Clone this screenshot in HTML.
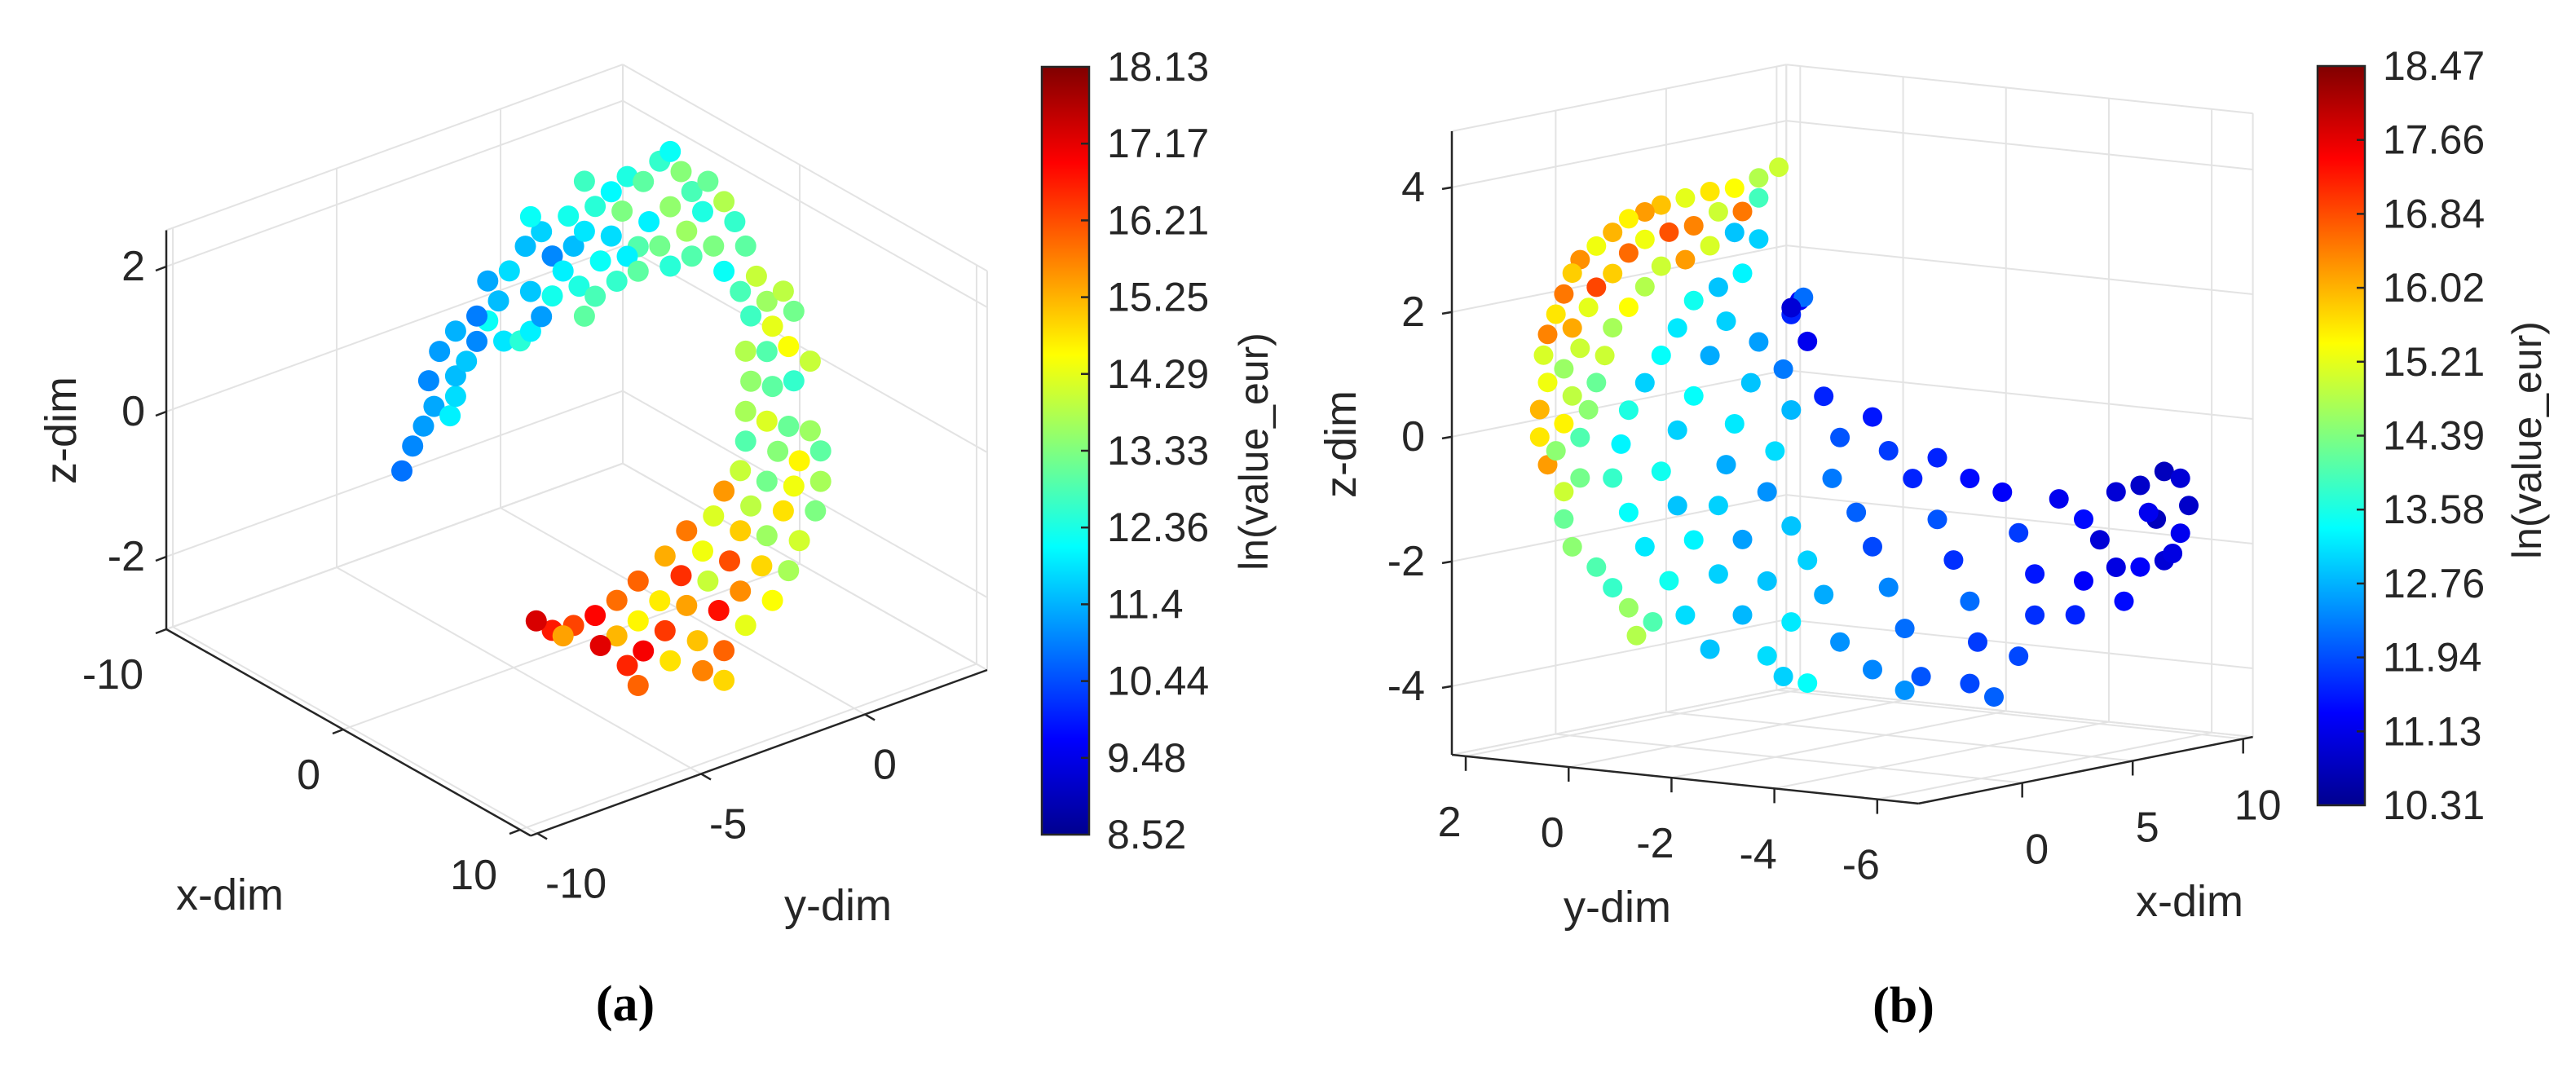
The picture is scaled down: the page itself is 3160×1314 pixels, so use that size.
<!DOCTYPE html>
<html><head><meta charset="utf-8"><style>
html,body{margin:0;padding:0;background:#fff;}
svg{display:block;font-family:"Liberation Sans",Arial,sans-serif;}
.grid{stroke:#e3e3e3;stroke-width:2;fill:none;}
.axis{stroke:#262626;stroke-width:2.5;fill:none;}
.tk{fill:#262626;font-size:52px;}
.cbl{fill:#262626;font-size:50px;}
.ttl{fill:#262626;font-size:54px;}
.cap{font-family:"Liberation Serif",serif;font-weight:bold;font-size:62px;fill:#000;}
</style></head><body>
<svg id="fig" width="3160" height="1314" viewBox="0 0 3160 1314">
<defs>
<linearGradient id="jet" x1="0" y1="1" x2="0" y2="0">
<stop offset="0" stop-color="#00008f"/><stop offset="0.125" stop-color="#0000ff"/>
<stop offset="0.375" stop-color="#00ffff"/><stop offset="0.625" stop-color="#ffff00"/>
<stop offset="0.875" stop-color="#ff0000"/><stop offset="1" stop-color="#800000"/>
</linearGradient>
</defs>
<g id="panelA"></g>
<g id="panelB"></g>
<text class="cap" x="767" y="1232" text-anchor="middle" dominant-baseline="central">(a)</text>
<text class="cap" x="2335" y="1234" text-anchor="middle" dominant-baseline="central">(b)</text>
</svg>
<script>
// ---------- Panel A data ----------
const aX = [0,0,0,0,0,0,0,0,0,0,0,0,0,0,0,0,0,0,0,0,0,0,0,0,0,0,0,0,0,0,0,0,0,0,0,0,0,0,0,0,0,0,0,0,0,0,0,0,0,0,0,0,0,0,0,0,0,0,0,0,0,0,0,0,0,0,0,0,0,0,0,0,0,0,0,0,0,0,0,0,0,0,0,0,0,0,0,0,0,0,0,0,0,0,0,0,0,0,0,0,0,0,0,0,0,0,0,0,0,0,0,0,0,0,0,0,0,0,0,0,0,0,0,0,0,0,0,0,0,0];
const aY = [-8.41,-8.08,-7.75,-7.43,-6.94,-6.77,-7.59,-6.77,-7.26,-6.44,-6.12,-6.77,-5.79,-5.30,-6.12,-4.80,-5.46,-4.48,-5.79,-5.13,-4.48,-4.15,-3.82,-4.64,-4.15,-4.48,-3.82,-3.49,-3.17,-3.33,-2.84,-3.00,-2.51,-2.84,-2.35,-2.02,-2.51,-2.84,-2.02,-1.53,-1.69,-1.85,-1.20,-0.87,-1.04,-0.54,-0.22,0.11,0.44,-0.22,-0.54,-1.53,-1.20,-0.22,0.28,0.77,0.93,1.42,1.75,0.44,1.10,1.42,2.08,2.41,1.92,2.73,3.23,2.24,2.90,3.55,2.08,2.73,3.39,4.05,2.24,2.90,3.55,2.08,2.73,3.39,4.05,2.08,3.06,3.72,4.37,1.92,2.73,3.55,4.37,1.42,2.24,3.23,4.21,1.10,1.92,2.73,3.72,0.28,0.77,1.59,2.57,3.39,-0.38,0.11,0.93,1.92,2.90,-1.20,-0.54,0.28,1.26,2.08,-1.85,-1.20,-0.38,0.61,1.42,-2.51,-1.85,-1.04,-0.22,0.77,-3.17,-2.35,-1.53,-1.20,-3.82,-4.31,-3.49,1.42];
const aZ = [0.27,0.56,0.78,1.00,0.79,1.03,1.38,1.31,1.73,1.46,1.68,1.93,1.91,1.55,2.03,1.47,2.13,1.55,2.46,2.49,2.10,1.70,1.93,2.75,2.87,3.13,2.48,2.22,2.51,2.95,2.66,1.93,1.71,1.49,2.17,2.46,2.95,3.35,3.07,3.20,2.75,1.81,2.18,2.47,3.05,3.25,3.33,3.00,2.67,2.57,2.08,2.10,1.84,1.75,2.15,2.34,2.73,2.37,2.04,1.78,1.81,1.41,1.65,1.18,1.05,0.78,0.84,0.66,0.41,0.51,0.20,0.09,0.05,-0.26,-0.24,-0.42,-0.45,-0.63,-0.87,-1.05,-1.22,-1.04,-1.34,-1.58,-1.55,-1.42,-1.70,-1.90,-1.97,-1.62,-1.96,-2.19,-2.35,-1.91,-2.25,-2.45,-2.68,-1.98,-2.34,-2.61,-2.84,-3.04,-2.22,-2.57,-2.78,-3.08,-3.37,-2.43,-2.81,-3.01,-3.24,-3.58,-2.59,-2.98,-3.25,-3.55,-3.82,-2.69,-3.08,-3.42,-3.69,-3.99,-2.72,-3.13,-3.54,-3.87,-2.68,-2.47,-2.81,-4.23];
const aV = [10.8,11.0,11.2,11.3,12.0,11.8,11.0,11.5,11.2,11.6,11.0,11.4,12.2,11.9,10.9,12.5,11.5,12.0,11.3,11.8,11.6,11.2,12.3,11.5,11.7,12.2,11.0,12.0,11.5,12.3,11.9,12.4,12.8,13.0,12.2,11.8,12.5,12.7,12.1,12.4,13.3,12.6,12.9,12.0,13.0,12.6,12.2,13.4,12.8,13.5,13.2,12.0,13.0,12.5,13.6,12.4,13.1,13.8,12.6,12.9,13.3,12.2,13.0,14.0,12.8,13.6,13.9,12.7,14.3,13.2,13.8,12.9,14.5,14.0,13.5,13.0,12.6,13.7,14.2,13.1,13.6,12.9,13.4,14.6,13.0,14.0,13.2,14.4,13.7,15.5,13.9,14.8,13.3,14.2,15.0,13.6,14.1,15.8,14.4,16.2,14.9,13.7,15.3,16.5,14.0,15.6,14.5,16.0,14.7,15.4,16.8,14.3,15.9,14.6,16.4,15.1,16.0,16.9,15.2,17.0,14.8,15.7,16.3,17.2,16.6,16.0,16.7,17.3,15.4,14.9];
const aXTicks = [-10, 0, 10];
const aYTicks = [-10, -5, 0];
const aZTicks = [-2, 0, 2];
const aCbTicks = ["18.13","17.17","16.21","15.25","14.29","13.33","12.36","11.4","10.44","9.48","8.52"];
const aCbRange = [8.52, 18.13];

// ---------- Panel B data ----------
const bX = [3.30,2.88,2.37,1.86,1.35,0.84,0.50,0.16,-0.17,-0.51,-0.85,-1.02,-1.19,-1.36,-1.53,-1.62,-1.53,-1.70,-1.70,-1.53,
2.88,2.54,2.03,1.52,1.01,0.50,0.16,-0.17,-0.51,-0.68,-1.02,-0.85,-1.19,-1.02,-1.19,-1.36,
2.37,1.86,1.35,0.84,0.50,0.16,-0.17,-0.34,-0.51,-0.68,-0.85,-0.85,-1.19,-1.19,-1.02,-0.51,-0.17,0.16,0.33,0.67,
2.88,2.54,2.03,1.52,1.18,0.84,0.50,0.16,0.00,-0.17,0.16,0.50,1.01,1.35,1.86,
2.20,1.86,1.52,1.18,0.84,1.18,1.52,2.03,2.54,3.05,
2.88,2.71,2.37,2.20,2.03,2.54,3.05,3.56,3.90,3.39,
3.56,3.39,3.56,3.22,3.05,3.56,3.90,4.24,4.58,5.26,
3.73,3.90,4.24,4.58,4.41,4.92,5.26,5.59,5.93,6.27,5.93,
5.26,5.59,6.10,6.61,6.95,7.29,7.46,7.29,7.80,
6.61,7.29,7.97,8.31,8.65,8.65,8.31,
9.16,9.67,10.01,9.67,9.50,10.35,
10.35,10.86,11.36,11.70,11.87,11.70,11.36,10.86,10.52,11.19,11.53,11.03,3.81,3.56];
const bY = [-0.65,-0.44,-0.19,0.07,0.33,0.58,0.75,0.92,1.09,1.26,1.43,1.51,1.60,1.68,1.77,1.81,1.77,1.85,1.85,1.77,
-0.44,-0.27,-0.02,0.24,0.50,0.75,0.92,1.09,1.26,1.34,1.51,1.43,1.60,1.51,1.60,1.68,
-0.19,0.07,0.33,0.58,0.75,0.92,1.09,1.17,1.26,1.34,1.43,1.43,1.60,1.60,1.51,1.26,1.09,0.92,0.84,0.67,
-0.44,-0.27,-0.02,0.24,0.41,0.58,0.75,0.92,1.00,1.09,0.92,0.75,0.50,0.33,0.07,
-0.10,0.07,0.24,0.41,0.58,0.41,0.24,-0.02,-0.27,-0.53,
-0.44,-0.36,-0.19,-0.10,-0.02,-0.27,-0.53,-0.78,-0.95,-0.70,
-0.78,-0.70,-0.78,-0.61,-0.53,-0.78,-0.95,-1.12,-1.29,-1.63,
-0.87,-0.95,-1.12,-1.29,-1.21,-1.46,-1.63,-1.80,-1.97,-2.14,-1.97,
-1.63,-1.80,-2.05,-2.31,-2.48,-2.65,-2.73,-2.65,-2.90,
-2.31,-2.65,-2.99,-3.16,-3.33,-3.33,-3.16,
-3.58,-3.84,-4.01,-3.84,-3.75,-4.18,
-4.18,-4.43,-4.68,-4.85,-4.94,-4.85,-4.68,-4.43,-4.26,-4.60,-4.77,-4.52,-0.91,-0.78];
const bZ = [4.01,3.85,3.70,3.66,3.57,3.47,3.37,3.27,3.06,2.85,2.64,2.43,2.10,1.78,1.46,1.13,0.69,0.26,-0.18,-0.63,
3.53,3.32,3.33,3.12,3.03,2.93,2.72,2.40,2.19,1.87,1.55,1.22,0.90,0.46,0.02,-0.41,
2.99,2.79,2.58,2.49,2.17,1.85,1.53,1.09,0.66,0.23,-0.21,-0.86,-1.07,-1.51,-1.96,-2.30,-2.64,-2.97,-3.42,-3.21,
2.87,2.33,2.12,1.92,1.49,1.06,0.63,0.20,-0.34,-0.88,-1.44,-2.00,-2.56,-3.12,-3.68,
1.57,1.03,0.39,-0.15,-0.80,-1.36,-1.92,-2.48,-3.15,-3.82,
1.22,0.57,-0.08,-0.73,-1.38,-1.94,-2.62,-3.29,-4.28,-4.16,
1.64,0.77,0.11,-0.54,-1.19,-1.75,-2.31,-2.87,-3.64,-4.10,
1.86,1.20,0.31,-0.36,-1.01,-1.57,-2.13,-2.79,-3.46,-4.24,-4.45,
-0.05,-0.60,-1.06,-1.73,-2.39,-3.06,-3.72,-4.38,-4.61,
-0.74,-1.09,-1.33,-1.99,-2.66,-3.32,-3.97,
-1.47,-1.81,-2.15,-2.80,-3.34,-2.60,
-1.39,-1.30,-1.09,-1.21,-1.65,-2.09,-2.52,-2.61,-3.15,-1.85,-2.41,-1.74,1.91,1.75];
const bV = [15.0,14.8,15.4,15.6,15.2,15.9,16.2,15.5,16.0,15.3,16.3,15.8,16.5,15.6,16.4,15.1,15.3,16.0,15.6,16.2,
13.9,16.5,15.0,16.4,16.8,15.3,16.6,15.8,16.9,15.2,16.1,15.0,14.6,14.9,15.5,14.5,
12.9,15.1,16.2,15.0,14.8,15.4,14.7,15.0,14.2,14.5,14.0,14.3,15.0,14.2,14.5,14.0,13.8,14.6,14.8,14.0,
13.0,13.3,12.9,13.5,13.2,13.4,13.0,13.6,13.3,13.8,13.4,13.2,13.5,13.1,12.9,
13.0,12.7,13.4,13.0,13.5,12.9,13.3,13.0,12.8,13.1,
12.6,12.9,13.2,12.7,13.0,12.6,12.9,13.2,13.4,13.0,
11.6,12.3,12.8,13.1,12.5,12.9,13.0,12.7,12.5,12.4,
11.3,11.2,11.6,12.0,12.3,12.1,11.9,12.4,12.2,12.0,12.5,
11.5,11.8,11.6,12.0,11.7,12.2,11.8,11.9,12.1,
11.6,11.4,11.3,11.8,11.5,11.7,11.9,
11.2,11.4,11.0,11.3,11.6,11.1,
11.0,10.9,10.8,11.0,10.9,11.2,11.0,11.3,11.4,10.8,11.1,11.2,12.2,11.0];
const bXTicks = [0, 5, 10];
const bYTicks = [2, 0, -2, -4, -6];
const bZTicks = [-4, -2, 0, 2, 4];
const bCbTicks = ["18.47","17.66","16.84","16.02","15.21","14.39","13.58","12.76","11.94","11.13","10.31"];
const bCbRange = [10.31, 18.47];

// ---------- axes (projection geometry) ----------
const NS = "http://www.w3.org/2000/svg";
const axA = {o:[204,772], o3:[-10,-10.2,-3], ex:[21.7,12.3], ey:[40.2,-14.6], ez:[0,-89],
  xl:[-10,10.6], yl:[-10.2,3.73], zl:[-3,2.5]};
const axB = {o:[1781,926], o3:[-4.7,2.27,-5.1], ex:[27.1,-5.4], ey:[-63.1,-6.6], ez:[0,-76.5],
  xl:[-4.7,10.44], yl:[-6.8,2.27], zl:[-5.1,4.9]};

function proj(ax, x, y, z) {
  const dx = x - ax.o3[0], dy = y - ax.o3[1], dz = z - ax.o3[2];
  return [ax.o[0] + ax.ex[0]*dx + ax.ey[0]*dy + ax.ez[0]*dz,
          ax.o[1] + ax.ex[1]*dx + ax.ey[1]*dy + ax.ez[1]*dz];
}
function jet(t) {
  t = Math.max(0, Math.min(1, t));
  const c = v => Math.round(255*Math.max(0, Math.min(1, v)));
  return "rgb(" + c(1.5-Math.abs(4*t-3)) + "," + c(1.5-Math.abs(4*t-2)) + "," + c(1.5-Math.abs(4*t-1)) + ")";
}
function mk(parent, tag, attrs) {
  const el = document.createElementNS(NS, tag);
  for (const k in attrs) el.setAttribute(k, attrs[k]);
  parent.appendChild(el);
  return el;
}
function seg(g, ax, p, q, cls, name) {
  const a = proj(ax, p[0], p[1], p[2]), b = proj(ax, q[0], q[1], q[2]);
  const el = mk(g, "line", {x1:a[0], y1:a[1], x2:b[0], y2:b[1], class:cls});
  
  
  return el;
}
function txt(g, x, y, s, cls, anchor, name, rot) {
  const el = mk(g, "text", {x:x, y:y, class:cls, "text-anchor":anchor, "dominant-baseline":"central"});
  if (rot) el.setAttribute("transform", "rotate(-90 " + x + " " + y + ")");
  el.textContent = s;
  
  
  return el;
}
function wall(g, ax, k, v, ticks) {
  const lim = [ax.xl, ax.yl, ax.zl];
  const others = [0,1,2].filter(i => i !== k);
  for (const i of others) {
    const j = others.find(m => m !== i);
    const vals = ticks[i].filter(t => t >= lim[i][0] && t <= lim[i][1]).concat(lim[i]);
    for (const t of vals) {
      const p = [0,0,0], q = [0,0,0];
      p[k] = v; q[k] = v; p[i] = t; q[i] = t; p[j] = lim[j][0]; q[j] = lim[j][1];
      seg(g, ax, p, q, "grid", "gridline");
    }
  }
}
function scatter(g, ax, X, Y, Z, V, rng, r) {
  for (let i = 0; i < X.length; i++) {
    const p = proj(ax, X[i], Y[i], Z[i]);
    const c = mk(g, "circle", {cx:p[0].toFixed(1), cy:p[1].toFixed(1), r:r,
      fill:jet((V[i]-rng[0])/(rng[1]-rng[0]))});
    
    
  }
}
function colorbar(g, x, y, w, h, labels, lx, labelX, labelY, prefix) {
  const r = mk(g, "rect", {x:x, y:y, width:w, height:h, fill:"url(#jet)", stroke:"#262626", "stroke-width":2.5});
  
  
  const n = labels.length;
  for (let i = 0; i < n; i++) {
    const ty = y + h*i/(n-1);
    if (i > 0 && i < n-1) {
      const t = mk(g, "line", {x1:x+w-10, y1:ty, x2:x+w, y2:ty, class:"axis"});
      
      
    }
    txt(g, lx, ty, labels[i], "cbl", "start", "colorbar-tick-label");
  }
  txt(g, labelX, labelY, "ln(value_eur)", "cbl", "middle", prefix + "-colorbar-title", true);
}

// ---------- Panel A ----------
(function(){
  const g = document.getElementById("panelA");
  const ax = axA, T = [aXTicks, aYTicks, aZTicks];
  wall(g, ax, 0, ax.xl[0], T);
  wall(g, ax, 1, ax.yl[1], T);
  wall(g, ax, 2, ax.zl[0], T);
  scatter(g, ax, aX, aY, aZ, aV, aCbRange, 13);
  seg(g, ax, [ax.xl[0],ax.yl[0],ax.zl[0]], [ax.xl[0],ax.yl[0],ax.zl[1]], "axis", "z-axis-line");
  seg(g, ax, [ax.xl[0],ax.yl[0],ax.zl[0]], [ax.xl[1],ax.yl[0],ax.zl[0]], "axis", "x-axis-line");
  seg(g, ax, [ax.xl[1],ax.yl[0],ax.zl[0]], [ax.xl[1],ax.yl[1],ax.zl[0]], "axis", "y-axis-line");
  for (const t of aZTicks) {
    const p = proj(ax, ax.xl[0], ax.yl[0], t);
    mk(g, "line", {x1:p[0], y1:p[1], x2:p[0]-13, y2:p[1]+5, class:"axis"});
    txt(g, 178, p[1], String(t), "tk", "end", "z-tick-label");
  }
  for (const t of aXTicks) {
    const p = proj(ax, t, ax.yl[0], ax.zl[0]);
    mk(g, "line", {x1:p[0], y1:p[1], x2:p[0]-13, y2:p[1]+5, class:"axis"});
    txt(g, p[0]-28, p[1]+56, String(t), "tk", "end", "x-tick-label");
  }
  for (const t of aYTicks) {
    const p = proj(ax, ax.xl[1], t, ax.zl[0]);
    mk(g, "line", {x1:p[0], y1:p[1], x2:p[0]+12, y2:p[1]+7, class:"axis"});
    txt(g, p[0]+10, p[1]+62, String(t), "tk", "start", "y-tick-label");
  }
  txt(g, 282, 1098, "x-dim", "ttl", "middle", "x-axis-title");
  txt(g, 1028, 1111, "y-dim", "ttl", "middle", "y-axis-title");
  txt(g, 75, 528, "z-dim", "ttl", "middle", "z-axis-title", true);
  colorbar(g, 1278, 82, 58, 942, aCbTicks, 1358, 1538, 554, "a");
})();

// ---------- Panel B ----------
(function(){
  const g = document.getElementById("panelB");
  const ax = axB, T = [bXTicks, bYTicks, bZTicks];
  wall(g, ax, 1, ax.yl[1], T);
  wall(g, ax, 0, ax.xl[1], T);
  wall(g, ax, 2, ax.zl[0], T);
  scatter(g, ax, bX, bY, bZ, bV, bCbRange, 12);
  seg(g, ax, [ax.xl[0],ax.yl[1],ax.zl[0]], [ax.xl[0],ax.yl[1],ax.zl[1]], "axis", "z-axis-line");
  seg(g, ax, [ax.xl[0],ax.yl[1],ax.zl[0]], [ax.xl[0],ax.yl[0],ax.zl[0]], "axis", "y-axis-line");
  seg(g, ax, [ax.xl[0],ax.yl[0],ax.zl[0]], [ax.xl[1],ax.yl[0],ax.zl[0]], "axis", "x-axis-line");
  for (const t of bZTicks) {
    const p = proj(ax, ax.xl[0], ax.yl[1], t);
    mk(g, "line", {x1:p[0], y1:p[1], x2:p[0]-12, y2:p[1]+2, class:"axis"});
    txt(g, 1748, p[1], String(t), "tk", "end", "z-tick-label");
  }
  for (const t of bYTicks) {
    const p = proj(ax, ax.xl[0], t, ax.zl[0]);
    mk(g, "line", {x1:p[0], y1:p[1], x2:p[0], y2:p[1]+18, class:"axis"});
    txt(g, p[0]-20, p[1]+81, String(t), "tk", "middle", "y-tick-label");
  }
  for (const t of bXTicks) {
    const p = proj(ax, t, ax.yl[0], ax.zl[0]);
    mk(g, "line", {x1:p[0], y1:p[1], x2:p[0], y2:p[1]+18, class:"axis"});
    txt(g, p[0]+18, p[1]+82, String(t), "tk", "middle", "x-tick-label");
  }
  txt(g, 1984, 1113, "y-dim", "ttl", "middle", "y-axis-title");
  txt(g, 2686, 1106, "x-dim", "ttl", "middle", "x-axis-title");
  txt(g, 1645, 545, "z-dim", "ttl", "middle", "z-axis-title", true);
  colorbar(g, 2843, 81, 58, 907, bCbTicks, 2923, 3100, 540, "b");
})();
</script>
</body></html>
